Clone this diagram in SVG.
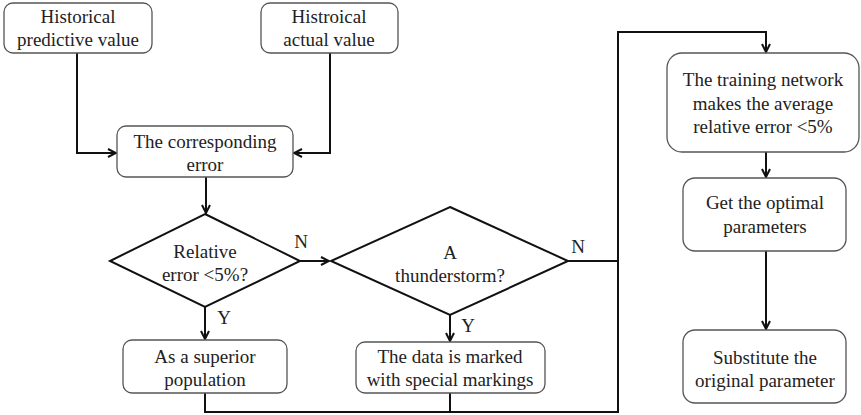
<svg xmlns="http://www.w3.org/2000/svg" width="861" height="415" viewBox="0 0 861 415">
<style>
.box{fill:#fff;stroke:#555;stroke-width:1.3}
.t{font-family:'Liberation Serif','Times New Roman',serif;font-size:19px;fill:#222;text-anchor:middle}
.c{fill:none;stroke:#111;stroke-width:2}
.d{fill:#fff;stroke:#111;stroke-width:2}
</style>
<defs>
<marker id="ah" markerWidth="10" markerHeight="10" refX="9" refY="5" orient="auto" markerUnits="userSpaceOnUse">
<path d="M1,1 L9,5 L1,9" fill="none" stroke="#111" stroke-width="2"/>
</marker>
</defs>
<rect width="861" height="415" fill="#fff"/>
<g id="connectors">
<path class="c" d="M77,53 V153 H116" marker-end="url(#ah)"/>
<path class="c" d="M330,53 V153 H294" marker-end="url(#ah)"/>
<path class="c" d="M206,177 V213" marker-end="url(#ah)"/>
<path class="c" d="M300,261 H329" marker-end="url(#ah)"/>
<path class="c" d="M205,307 V339" marker-end="url(#ah)"/>
<path class="c" d="M450,315 V341" marker-end="url(#ah)"/>
<path class="c" d="M568,261 H618"/>
<path class="c" d="M205,393 V412 H618 V32 H766 V52" marker-end="url(#ah)"/>
<path class="c" d="M450,393 V412"/>
<path class="c" d="M766,152 V177" marker-end="url(#ah)"/>
<path class="c" d="M766,251 V329" marker-end="url(#ah)"/>
<text class="t" x="301" y="248">N</text>
<text class="t" x="578" y="253">N</text>
<text class="t" x="224" y="324">Y</text>
<text class="t" x="468" y="332">Y</text>
</g>
<g id="n1"><rect class="box" x="4" y="3" width="148" height="50" rx="9"/>
<text class="t" x="78" y="23">Historical</text><text class="t" x="78" y="46">predictive value</text></g>
<g id="n2"><rect class="box" x="261" y="3" width="137" height="50" rx="9"/>
<text class="t" x="329" y="23">Histroical</text><text class="t" x="329" y="46">actual value</text></g>
<g id="n3"><rect class="box" x="117" y="126" width="176" height="51" rx="9"/>
<text class="t" x="205" y="148">The corresponding</text><text class="t" x="205" y="171">error</text></g>
<g id="n4"><polygon class="d" points="205,214 300,261 205,307 110,261"/>
<text class="t" x="205" y="258">Relative</text><text class="t" x="205" y="281">error &lt;5%?</text></g>
<g id="n5"><polygon class="d" points="450,207 568,261 450,315 331,261"/>
<text class="t" x="450" y="259">A</text><text class="t" x="450" y="282">thunderstorm?</text></g>
<g id="n6"><rect class="box" x="123" y="340" width="164" height="53" rx="9"/>
<text class="t" x="205" y="363">As a superior</text><text class="t" x="205" y="386">population</text></g>
<g id="n7"><rect class="box" x="356" y="342" width="189" height="51" rx="9"/>
<text class="t" x="450" y="363">The data is marked</text><text class="t" x="450" y="386">with special markings</text></g>
<g id="n8"><rect class="box" x="667" y="53" width="192" height="99" rx="15"/>
<text class="t" x="763" y="86">The training network</text><text class="t" x="763" y="110">makes the average</text><text class="t" x="763" y="133">relative error &lt;5%</text></g>
<g id="n9"><rect class="box" x="683" y="178" width="163" height="73" rx="12"/>
<text class="t" x="765" y="209">Get the optimal</text><text class="t" x="765" y="233">parameters</text></g>
<g id="n10"><rect class="box" x="683" y="330" width="163" height="73" rx="12"/>
<text class="t" x="765" y="364">Substitute the</text><text class="t" x="765" y="387">original parameter</text></g>
</svg>
